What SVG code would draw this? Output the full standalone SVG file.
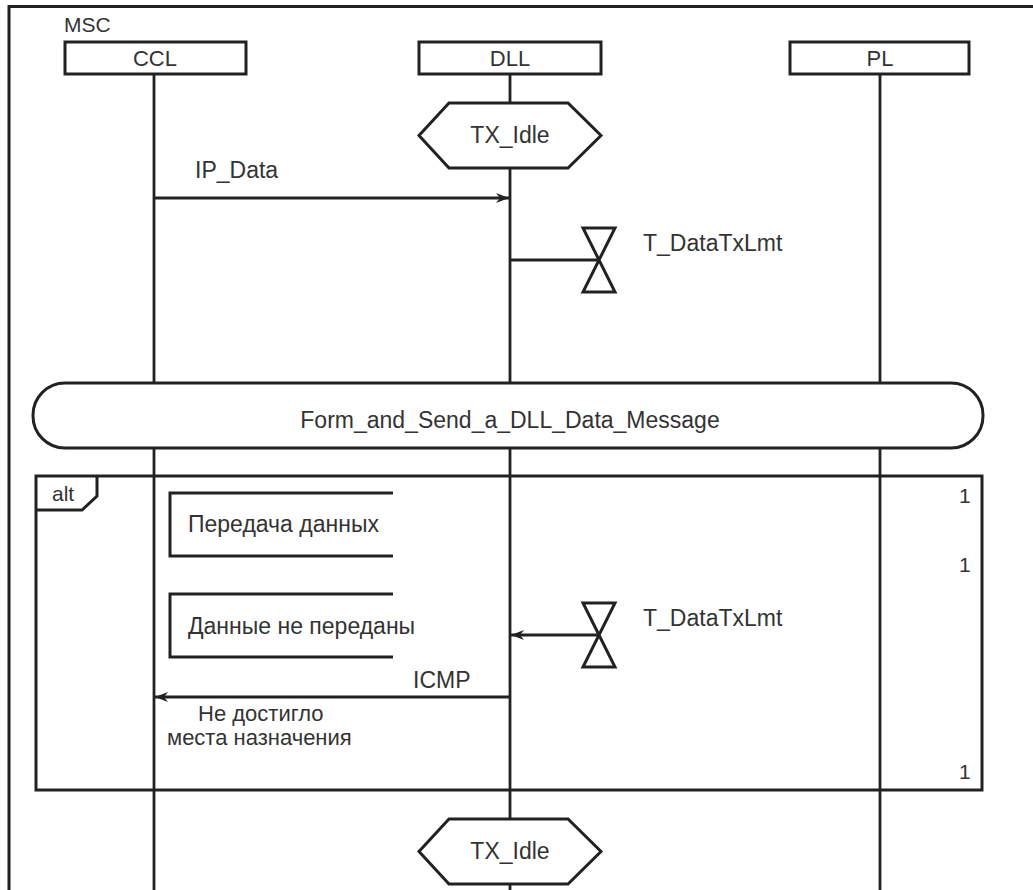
<svg xmlns="http://www.w3.org/2000/svg" width="1033" height="890" viewBox="0 0 1033 890">
<style>
text{font-family:"Liberation Sans",Arial,sans-serif;font-size:23px;fill:#333}
.h{font-size:21px}
.b{font-size:22px}
.s{fill:none;stroke:#222;stroke-width:3}
.w{fill:#fff;stroke:#222;stroke-width:3}
.l{stroke:#222;stroke-width:2.8;fill:none}
.c{text-anchor:middle}
</style>
<defs>
<marker id="ah" markerWidth="14" markerHeight="12" refX="13" refY="6" orient="auto" markerUnits="userSpaceOnUse">
<path d="M0,1 L13,6 L0,11 L4,6 Z" fill="#222"/>
</marker>
</defs>
<rect width="1033" height="890" fill="#fff"/>
<g id="frame">
<path class="s" d="M9,890 V6.5 H1033"/>
<text class="h" x="64" y="32">MSC</text>
</g>
<g id="lifelines">
<line class="l" x1="154" y1="74" x2="154" y2="890"/>
<line class="l" x1="510" y1="74" x2="510" y2="890"/>
<line class="l" x1="880" y1="74" x2="880" y2="890"/>
</g>
<g id="CCL"><rect class="w" x="65" y="42" width="181" height="32"/><text class="c b" x="155" y="66">CCL</text></g>
<g id="DLL"><rect class="w" x="419" y="42" width="182" height="32"/><text class="c b" x="510" y="66">DLL</text></g>
<g id="PL"><rect class="w" x="790" y="42" width="179" height="32"/><text class="c b" x="880" y="66">PL</text></g>
<g id="state1"><polygon class="w" points="449,103 568,103 601,135.5 568,168 449,168 419,135.5"/><text class="c" x="510" y="143">TX_Idle</text></g>
<g id="connectors">
<line class="l" x1="154" y1="198" x2="509" y2="198" marker-end="url(#ah)"/>
<line class="l" x1="510" y1="260" x2="599" y2="260"/>
<line class="l" x1="599" y1="635" x2="511" y2="635" marker-end="url(#ah)"/>
<line class="l" x1="510" y1="697" x2="155" y2="697" marker-end="url(#ah)"/>
</g>
<g id="msg-ip"><text x="195" y="178">IP_Data</text></g>
<g id="timer1"><path class="s" d="M583,228 H615 L583,292 H615 Z"/><text x="643" y="251">T_DataTxLmt</text></g>
<g id="ref"><rect class="w" x="33" y="383" width="950" height="65" rx="32" ry="32"/><text class="c" x="510" y="428">Form_and_Send_a_DLL_Data_Message</text></g>
<g id="alt">
<rect class="s" x="36" y="476" width="946" height="314"/>
<path class="s" d="M36,510 H82 L97,496 V476"/>
<text class="h" x="52" y="501">alt</text>
<text class="h" x="959" y="503">1</text>
<text class="h" x="959" y="572">1</text>
<text class="h" x="959" y="779">1</text>
</g>
<g id="cond1"><path class="s" d="M393,493 H170 V556 H393"/><text x="188" y="532">Передача данных</text></g>
<g id="cond2"><path class="s" d="M393,594 H170 V657 H393"/><text x="188" y="634">Данные не переданы</text></g>
<g id="timer2"><path class="s" d="M583,603 H615 L583,667 H615 Z"/><text x="643" y="626">T_DataTxLmt</text></g>
<g id="msg-icmp">
<text x="413" y="688">ICMP</text>
<text class="b" x="198" y="721">Не достигло</text>
<text class="b" x="167" y="745">места назначения</text>
</g>
<g id="state2"><polygon class="w" points="449,819 568,819 601,851.5 568,884 449,884 419,851.5"/><text class="c" x="510" y="859">TX_Idle</text></g>
</svg>
